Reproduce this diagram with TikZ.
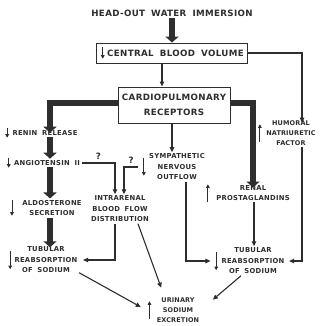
\documentclass[tikz,border=0pt]{standalone}
\usepackage{fontspec}
\setsansfont{DejaVu Sans}[LetterSpace=4,WordSpace=1.8]
\usetikzlibrary{arrows.meta,positioning}
\definecolor{ink}{HTML}{2E2E2E}
\newcommand{\hdr}{\sffamily\bfseries\fontsize{8.7}{15}\selectfont}
\newcommand{\lbl}{\sffamily\bfseries\fontsize{6.8}{10.5}\selectfont}
\newcommand{\lbln}{\sffamily\bfseries\fontsize{6.5}{10.2}\selectfont\addfontfeatures{LetterSpace=2}}

\begin{document}
\begin{tikzpicture}[x=1pt,y=-1pt,
  every node/.style={font=\lbl, text=ink, align=center, inner sep=1.5pt},
  big/.style={font=\hdr},
  nar/.style={font=\lbln},
  box/.style={draw=ink, line width=0.9pt, font=\hdr},
  dn/.style={minimum width=5pt, minimum height=#1, inner sep=0pt,
    path picture={\draw[draw=ink, line width=0.8pt, -{Triangle[length=3.5pt,width=3.6pt]}]
      ([yshift=-0.3pt]path picture bounding box.north) -- ([yshift=0.3pt]path picture bounding box.south);}},
  up/.style={minimum width=5pt, minimum height=#1, inner sep=0pt,
    path picture={\draw[draw=ink, line width=0.8pt, -{Triangle[length=3.5pt,width=3.6pt]}]
      ([yshift=0.3pt]path picture bounding box.south) -- ([yshift=-0.3pt]path picture bounding box.north);}},
  thk/.style={draw=ink, line width=5.5pt, -{Triangle[length=6pt,width=13pt]}},
  ln/.style={draw=ink, line width=1.1pt, -{Triangle[length=5pt,width=4.5pt]}},
  q/.style={font=\hdr, above=1pt},
  >=Stealth]
  \useasboundingbox[fill=white] (0,0) rectangle (322,326);
  \node[big] (head) at (172,13) {HEAD-OUT WATER IMMERSION};
  \node[box, minimum width=151pt, minimum height=20pt, inner sep=1pt] (cbv) at (172,53)
    {\hspace{7pt}CENTRAL BLOOD VOLUME};
  \node[dn=12pt, right=4pt of cbv.west] (cbvSg) {};
  \node[box, minimum width=112pt, minimum height=36pt, inner sep=1pt] (cpr) at (174,105)
    {CARDIOPULMONARY\\RECEPTORS};
  \node (renin) at (45,133) {RENIN RELEASE};
  \node (angio) at (47,163) {ANGIOTENSIN II};
  \node (aldo) at (52,208) {ALDOSTERONE\\SECRETION};
  \node (tubL) at (46,260) {TUBULAR\\REABSORPTION\\OF SODIUM};
  \node (intra) at (120,209) {INTRARENAL\\BLOOD FLOW\\DISTRIBUTION};
  \node (symp) at (177,167) {SYMPATHETIC\\NERVOUS\\OUTFLOW};
  \node (prost) at (253,193) {RENAL\\PROSTAGLANDINS};
  \node[nar] (humor) at (291,133) {HUMORAL\\NATRIURETIC\\FACTOR};
  \node (tubR) at (253,261) {TUBULAR\\REABSORPTION\\OF SODIUM};
  \node[nar] (urin) at (178,310) {URINARY\\SODIUM\\EXCRETION};
  \node[dn=10pt, left=1pt of renin] (reninSg) {};
  \node[dn=10pt, left=1pt of angio] (angioSg) {};
  \node[dn=16pt, left=6pt of aldo] (aldoSg) {};
  \node[dn=19pt, left=0pt of tubL] (tubLSg) {};
  \node[dn=18pt, left=1pt of symp] (sympSg) {};
  \node[up=18pt, left=4pt of prost] (prostSg) {};
  \node[up=18pt, left=2pt of humor] (humorSg) {};
  \node[dn=19pt, left=1pt of tubR] (tubRSg) {};
  \node[up=18pt, left=3pt of urin] (urinSg) {};
  \draw[thk] (head) -- (cbv);
  \draw[ln] ([xshift=-10pt]cbv.south) -- ([xshift=-10pt]cbv.south |- cpr.north);
  \draw[ln] (cbv.east) -| ([xshift=11pt,yshift=-4pt]humor.north);
  \draw[thk] ([yshift=2pt]cpr.west) -| ([xshift=5pt,yshift=-4pt]renin.north);
  \draw[thk] ([yshift=2pt]cpr.east) -| ([yshift=-4pt]prost.north);
  \draw[ln] ([xshift=-2pt]cpr.south) -- ([xshift=-2pt]cpr.south |- symp.north);
  \draw[thk] ([xshift=5pt]renin.south) -- ([xshift=5pt]renin.south |- angio.north);
  \draw[thk] ([xshift=3pt]angio.south) -- ([xshift=3pt]angio.south |- aldo.north);
  \draw[thk] ([xshift=-2pt]aldo.south) -- ([xshift=-2pt,yshift=-2pt]aldo.south |- tubL.north);
  \draw[ln] (angio.east) -| node[q, pos=0.25] {?} ([xshift=-5pt]intra.north);
  \draw[ln] ([xshift=-3pt]sympSg.west) -| node[q, pos=0.25] {?} ([xshift=4pt]intra.north);
  \draw[ln] ([xshift=-5pt]intra.south) |- ([xshift=4pt]tubL.east);
  \draw[ln] ([xshift=18pt]intra.south) -- ([xshift=6pt,yshift=8pt]urin.north west);
  \draw[ln] ([yshift=2pt]tubL.south east) -- ([xshift=-6pt,yshift=3pt]urinSg.west);
  \draw[ln] ([xshift=9pt]symp.south) |- ([xshift=-3pt]tubRSg.west);
  \draw[ln] ([xshift=1pt]prost.south) -- ([xshift=1pt]prost.south |- tubR.north);
  \draw[ln] ([xshift=11pt]humor.south) |- ([xshift=3pt]tubR.east);
  \draw[ln] ([xshift=-12pt]tubR.south) -- ([xshift=12pt,yshift=-4pt]urin.north east);
\end{tikzpicture}
\end{document}
